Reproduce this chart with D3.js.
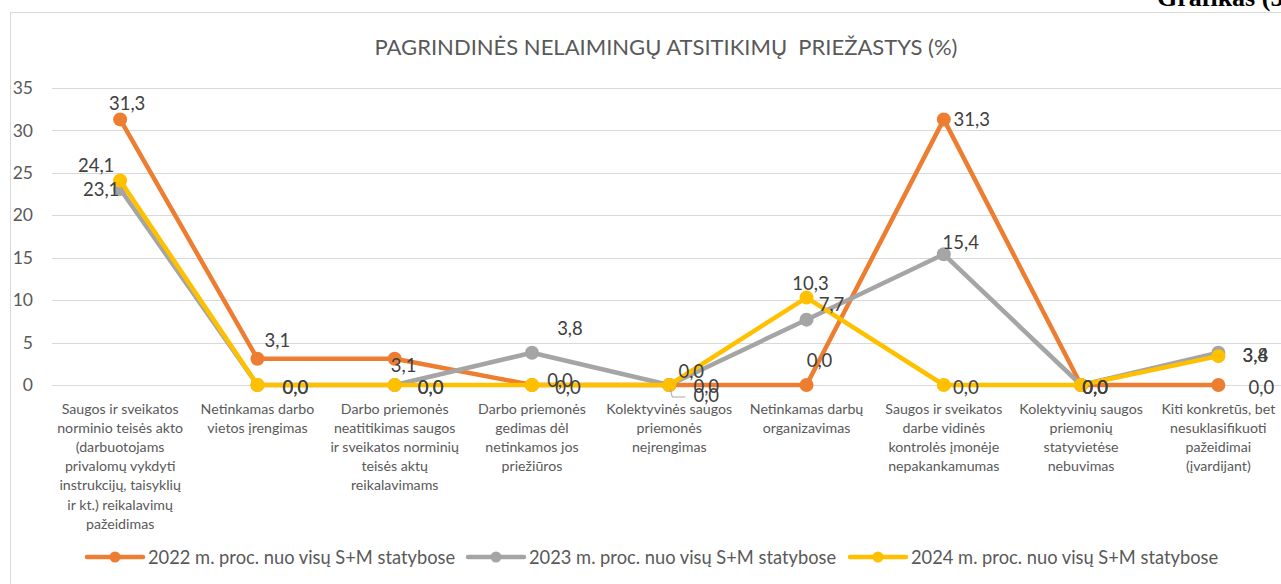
<!DOCTYPE html>
<html>
<head>
<meta charset="utf-8">
<script src="https://cdn.jsdelivr.net/npm/d3@7"></script>
<style>
  body { margin: 0; background: #fff; }
  svg { display: block; font-family: Lato, "Noto Sans", sans-serif; }
</style>
</head>
<body>
<div id="chart"></div>
<script>
const categories = [
  ["Saugos ir sveikatos", "norminio teisės akto", "(darbuotojams", "privalomų vykdyti", "instrukcijų, taisyklių", "ir kt.) reikalavimų", "pažeidimas"],
  ["Netinkamas darbo", "vietos įrengimas"],
  ["Darbo priemonės", "neatitikimas saugos", "ir sveikatos norminių", "teisės aktų", "reikalavimams"],
  ["Darbo priemonės", "gedimas dėl", "netinkamos jos", "priežiūros"],
  ["Kolektyvinės saugos", "priemonės", "neįrengimas"],
  ["Netinkamas darbų", "organizavimas"],
  ["Saugos ir sveikatos", "darbe vidinės", "kontrolės įmonėje", "nepakankamumas"],
  ["Kolektyvinių saugos", "priemonių", "statyvietėse", "nebuvimas"],
  ["Kiti konkretūs, bet", "nesuklasifikuoti", "pažeidimai", "(įvardijant)"]
];

const seriesNames = [
  "2022 m. proc. nuo visų S+M statybose",
  "2023 m. proc. nuo visų S+M statybose",
  "2024 m. proc. nuo visų S+M statybose"
];

const values2022 = [31.3, 3.1, 3.1, 0.0, 0.0, 0.0, 31.3, 0.0, 0.0];
const values2023 = [23.1, 0.0, 0.0, 3.8, 0.0, 7.7, 15.4, 0.0, 3.8];
const values2024 = [24.1, 0.0, 0.0, 0.0, 0.0, 10.3, 0.0, 0.0, 3.4];

const yTicks = [0, 5, 10, 15, 20, 25, 30, 35];

const title = "PAGRINDINĖS NELAIMINGŲ ATSITIKIMŲ  PRIEŽASTYS (%)";
const pageCaption = "Grafikas (5";

// label offsets from the marker, roughly as they sit in the original
const labelOffsets = [
  [[7, -16], [20, -19], [9, 6], [28, -5], [37, 1], [13, -25], [28, 0], [14, 2], [43, 2]],
  [[-19, 0], [38, 2], [36, 2], [38, -25], [22, -14], [25, -16], [17, -12], [14, 2], [37, 2]],
  [[-24, -15], [38, 2], [36, 2], [36, 2], [37, 10], [4, -15], [22, 2], [14, 2], [37, -1]]
];

const colors = ["#ED7D31", "#A5A5A5", "#FFC000"];
const allValues = [values2022, values2023, values2024];

const width = 1281, height = 584;

const svg = d3.select("#chart")
  .append("svg")
  .attr("width", width)
  .attr("height", height);

// chart frame (cut off on the right like the original)
svg.append("rect")
  .attr("x", 10.5)
  .attr("y", 12.5)
  .attr("width", 1400)
  .attr("height", 700)
  .attr("fill", "#fff")
  .attr("stroke", "#d9d9d9");

svg.append("text")
  .attr("x", 1157)
  .attr("y", 6)
  .attr("font-family", "'Liberation Serif', serif")
  .attr("font-weight", "bold")
  .attr("font-size", 26)
  .attr("fill", "#000")
  .text(pageCaption);

svg.append("text")
  .attr("x", 666)
  .attr("y", 46)
  .attr("text-anchor", "middle")
  .attr("dominant-baseline", "central")
  .attr("font-size", 22)
  .attr("fill", "#595959")
  .style("white-space", "pre")
  .text(title);

const x = d3.scalePoint()
  .domain(d3.range(categories.length))
  .range([51.5, 1287])
  .padding(0.5);

const y = d3.scaleLinear()
  .domain([0, 35])
  .range([385, 88]);

// gridlines
svg.append("g")
  .selectAll("line")
  .data(yTicks)
  .join("line")
  .attr("x1", 52)
  .attr("x2", width)
  .attr("y1", d => Math.round(y(d)) + 0.5)
  .attr("y2", d => Math.round(y(d)) + 0.5)
  .attr("stroke", "#d9d9d9")
  .attr("stroke-width", 1);

const yAxis = svg.append("g")
  .attr("transform", "translate(33,0)")
  .call(d3.axisLeft(y).tickValues(yTicks).tickSize(0).tickPadding(0));
yAxis.select(".domain").remove();
yAxis.selectAll("text")
  .attr("font-family", "Lato, sans-serif")
  .attr("font-size", 17.5)
  .attr("fill", "#595959");

// category labels
const xLabels = svg.append("g")
  .selectAll("text")
  .data(categories)
  .join("text")
  .attr("text-anchor", "middle")
  .attr("font-size", 14.2)
  .attr("fill", "#595959")
  .attr("x", (d, i) => x(i));

xLabels.selectAll("tspan")
  .data(d => d)
  .join("tspan")
  .attr("x", function () { return d3.select(this.parentNode).attr("x"); })
  .attr("y", (d, j) => 408.5 + j * 19.1)
  .attr("dominant-baseline", "central")
  .text(d => d);

const line = d3.line()
  .x((d, i) => x(i))
  .y(d => y(d));

allValues.forEach((vals, s) => {
  const g = svg.append("g");
  g.append("path")
    .datum(vals)
    .attr("fill", "none")
    .attr("stroke", colors[s])
    .attr("stroke-width", 4.5)
    .attr("stroke-linejoin", "round")
    .attr("d", line);
  g.selectAll("circle")
    .data(vals)
    .join("circle")
    .attr("cx", (d, i) => x(i))
    .attr("cy", d => y(d))
    .attr("r", 7)
    .attr("fill", colors[s]);
});

// small leader line for the displaced label
svg.append("polyline")
  .attr("points", [[x(4) + 1, y(0) + 4], [x(4) + 3, y(0) + 12], [x(4) + 16, y(0) + 12]].join(" "))
  .attr("fill", "none")
  .attr("stroke", "#a6a6a6")
  .attr("stroke-width", 1);

allValues.forEach((vals, s) => {
  svg.append("g")
    .selectAll("text")
    .data(vals)
    .join("text")
    .attr("x", (d, i) => x(i) + labelOffsets[s][i][0])
    .attr("y", (d, i) => y(d) + labelOffsets[s][i][1])
    .attr("text-anchor", "middle")
    .attr("dominant-baseline", "central")
    .attr("font-size", 18.5)
    .attr("fill", "#404040")
    .text(d => d.toFixed(1).replace(".", ","));
});

// legend
const legendX = [87, 468, 850];
const legend = svg.append("g")
  .selectAll("g")
  .data(seriesNames)
  .join("g")
  .attr("transform", (d, i) => `translate(${legendX[i]},557)`);

legend.append("line")
  .attr("x1", 0)
  .attr("x2", 56)
  .attr("stroke", (d, i) => colors[i])
  .attr("stroke-width", 4.5)
  .attr("stroke-linecap", "round");
legend.append("circle")
  .attr("cx", 28)
  .attr("r", 5.5)
  .attr("fill", (d, i) => colors[i]);
legend.append("text")
  .attr("x", 61)
  .attr("dominant-baseline", "central")
  .attr("font-size", 18.3)
  .attr("fill", "#595959")
  .text(d => d);
</script>
</body>
</html>
